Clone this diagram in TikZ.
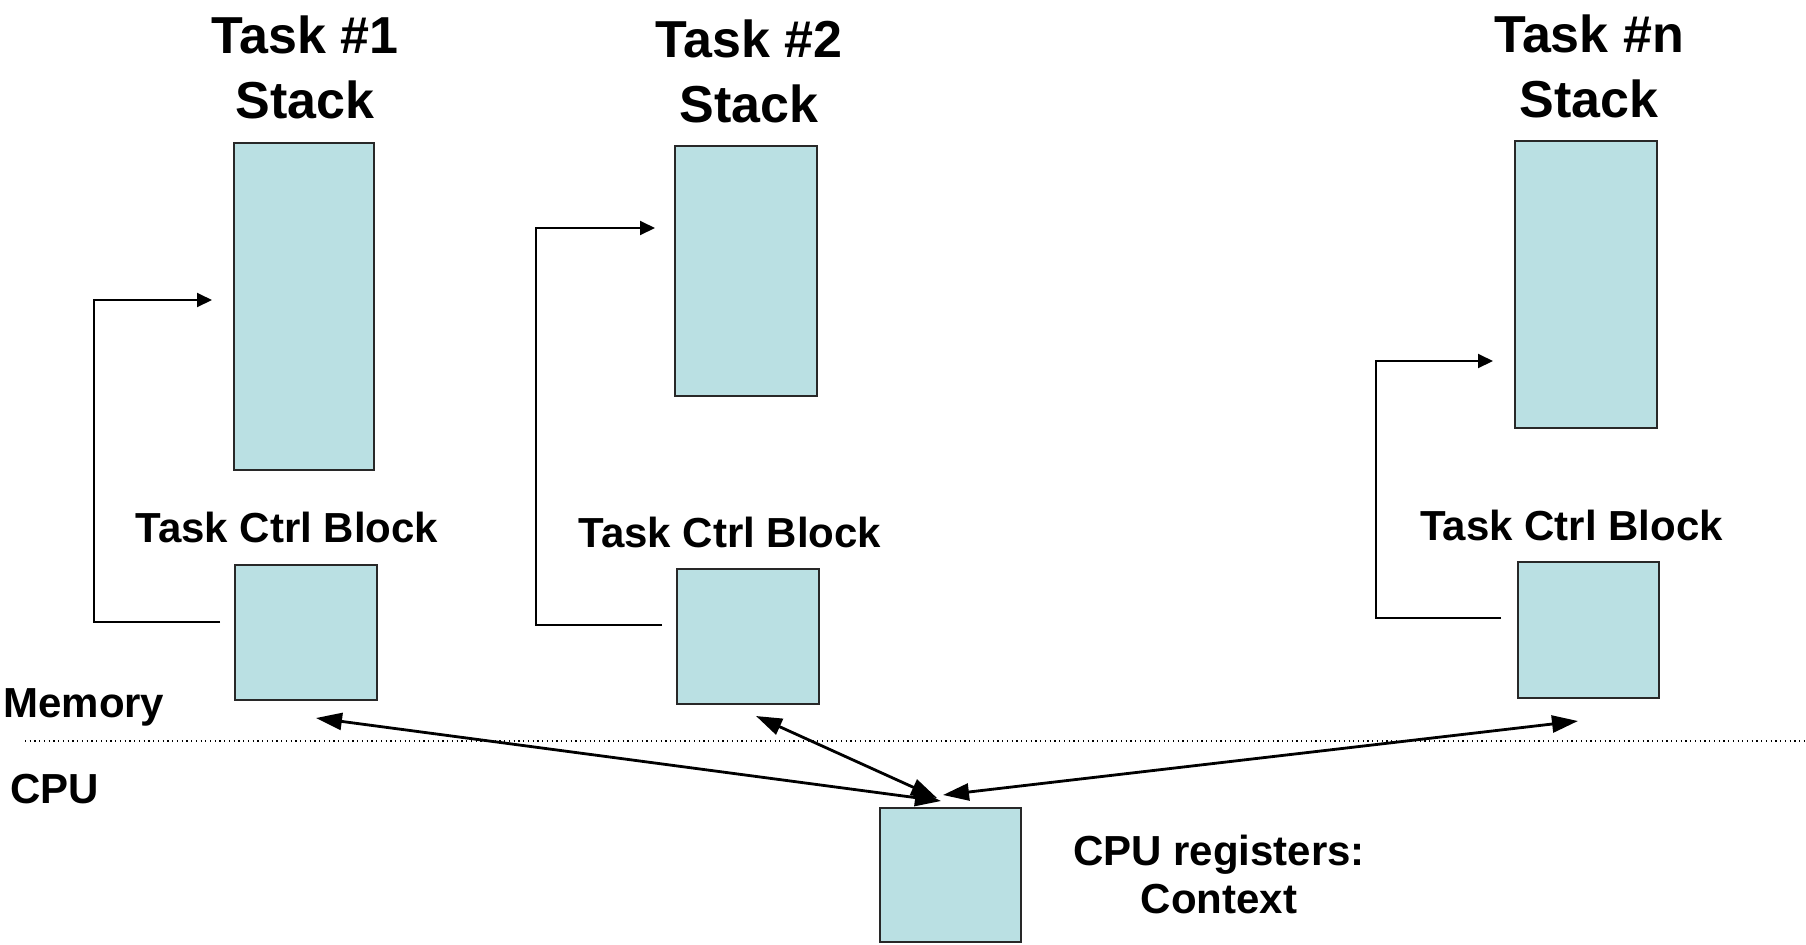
\documentclass[tikz,border=0pt]{standalone}
\usepackage{fontspec}
\setmainfont{Liberation Sans}
\usetikzlibrary{arrows.meta}
\definecolor{boxfill}{RGB}{186,224,227}
\definecolor{boxline}{RGB}{40,40,40}
\begin{document}
\begin{tikzpicture}[x=0.02cm,y=-0.02cm,
  memblock/.style={draw=boxline, line width=1.6pt, fill=boxfill, inner sep=0pt},
  titletext/.style={font=\fontsize{29.6pt}{36.9pt}\selectfont\bfseries, align=center, inner sep=0pt, anchor=base},
  labeltext/.style={font=\fontsize{23.9pt}{27.3pt}\selectfont\bfseries, inner sep=0pt, anchor=base},
  elbow/.style={line width=1.1pt, -{Triangle[length=0.3cm,width=0.28cm]}},
  swap/.style={line width=1.6pt, {Triangle[length=0.52cm,width=0.34cm]}-{Triangle[length=0.52cm,width=0.34cm]}},
  divider/.style={dotted, line width=0.7pt}]
\useasboundingbox (0,0) rectangle (1806,944);

% stacks
\node[memblock, minimum width=2.8cm, minimum height=6.54cm] (s1) at (304,306.5) {};
\node[memblock, minimum width=2.84cm, minimum height=5.0cm] (s2) at (746,271) {};
\node[memblock, minimum width=2.84cm, minimum height=5.74cm] (sn) at (1586,284.5) {};

% task control blocks
\node[memblock, minimum width=2.84cm, minimum height=2.7cm] (t1) at (306,632.5) {};
\node[memblock, minimum width=2.84cm, minimum height=2.7cm] (t2) at (748,636.5) {};
\node[memblock, minimum width=2.82cm, minimum height=2.72cm] (tn) at (1588.5,630) {};

% CPU registers
\node[memblock, minimum width=2.82cm, minimum height=2.68cm] (cpu) at (950.5,875) {};

% titles (base anchor = baseline of last line)
\node[titletext] (h1) at (305,118) {Task \#1\\Stack};
\node[titletext] (h2) at (749,122) {Task \#2\\Stack};
\node[titletext] (hn) at (1589,117) {Task \#n\\Stack};

% labels
\node[labeltext] (l1) at (287,542) {Task Ctrl Block};
\node[labeltext] (l2) at (730,547) {Task Ctrl Block};
\node[labeltext] (ln) at (1571.5,540) {Task Ctrl Block};
\node[labeltext, anchor=base west] (mem) at (3,717) {Memory};
\node[labeltext, anchor=base west] (cpulbl) at (10,803) {CPU};
\node[labeltext, align=center] (ctx) at (1219,913) {CPU registers:\\Context};

% divider
\coordinate (dl) at (25,741);
\coordinate (dr) at (1806,741);
\draw[divider] (dl) -- (dr);

% elbow pointers TCB -> stack
\coordinate (e1s) at (220,622);
\coordinate (e1e) at (212,300);
\draw[elbow] (e1s) -- ++(-126,0) |- (e1e);
\coordinate (e2s) at (662,625);
\coordinate (e2e) at (655,228);
\draw[elbow] (e2s) -- ++(-126,0) |- (e2e);
\coordinate (ens) at (1501,618);
\coordinate (ene) at (1493,361);
\draw[elbow] (ens) -- ++(-125,0) |- (ene);

% context switching arrows
\coordinate (a1s) at (316,718);
\coordinate (a1e) at (941,801);
\coordinate (a2s) at (756,716);
\coordinate (a2e) at (937,798);
\coordinate (a3s) at (1578,721);
\coordinate (a3e) at (943,795);
\draw[swap] (a1s) -- (a1e);
\draw[swap] (a2s) -- (a2e);
\draw[swap] (a3s) -- (a3e);
\end{tikzpicture}
\end{document}
